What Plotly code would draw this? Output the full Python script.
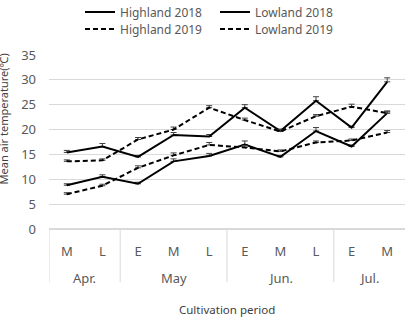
import plotly.graph_objects as go

months = ["Apr.", "May", "Jun.", "Jul."]
month_counts = [2, 3, 3, 2]
periods = ["M", "L", "E", "M", "L", "E", "M", "L", "E", "M"]

highland_2018 = [15.4, 16.6, 14.5, 18.9, 18.6, 24.4, 19.7, 25.8, 20.4, 29.6]
lowland_2018 = [8.8, 10.5, 9.1, 13.6, 14.7, 17.0, 14.5, 19.7, 16.6, 23.3]
highland_2019 = [13.6, 13.8, 18.0, 20.0, 24.4, 21.9, 19.6, 22.7, 24.6, 23.3]
lowland_2019 = [7.0, 8.7, 12.3, 14.8, 16.9, 16.4, 15.6, 17.4, 17.8, 19.4]

err_h18 = [0.4, 0.6, 0.3, 0.5, 0.4, 0.6, 0.4, 0.8, 0.3, 0.8]
err_l18 = [0.3, 0.4, 0.3, 0.5, 0.5, 0.7, 0.3, 0.7, 0.3, 0.4]
err_h19 = [0.3, 0.3, 0.4, 0.5, 0.4, 0.4, 0.4, 0.3, 0.5, 0.4]
err_l19 = [0.3, 0.3, 0.4, 0.5, 0.5, 0.4, 0.3, 0.3, 0.3, 0.4]

# unique category keys (zero-width spaces) so repeated period letters keep their order
x = [p + "\u200b" * i for i, p in enumerate(periods)]
grey = "#595959"
font = "Noto Sans"

fig = go.Figure()

def add(name, y, err, dash, legend):
    fig.add_trace(go.Scatter(
        x=x, y=y, name=name, mode="lines", legend=legend,
        line=dict(color="black", width=2, dash=dash),
        error_y=dict(type="data", array=err, arrayminus=[0] * len(err), symmetric=False,
                     color="#404040", thickness=1, width=3),
    ))

add("Highland 2018", highland_2018, err_h18, "solid", "legend")
add("Lowland 2018", lowland_2018, err_l18, "solid", "legend")
add("Highland 2019", highland_2019, err_h19, "5px,3px", "legend2")
add("Lowland 2019", lowland_2019, err_l19, "5px,3px", "legend2")

legend_common = dict(orientation="h", xref="container", yref="container", xanchor="left", yanchor="middle",
                     font=dict(family=font, size=12, color=grey), bgcolor="rgba(0,0,0,0)",
                     itemwidth=30, tracegroupgap=0, entrywidth=90, entrywidthmode="pixels")

fig.update_layout(
    width=407, height=320,
    margin=dict(l=49, r=2, t=43, b=91),
    paper_bgcolor="white", plot_bgcolor="white",
    font=dict(family=font, size=12, color=grey),
    showlegend=True,
    legend=dict(x=80 / 407, y=1 - 12 / 320, **legend_common),
    legend2=dict(x=80 / 407, y=1 - 29 / 320, **legend_common),
    xaxis=dict(
        type="category", categoryorder="array", categoryarray=x,
        range=[-0.5, len(x) - 0.5],
        showgrid=False, zeroline=False, showline=False, ticks="",
        ticklabelstandoff=13,
        tickfont=dict(family=font, size=13, color=grey),
    ),
    yaxis=dict(
        range=[0, 35], dtick=5, showgrid=True, gridcolor="#d9d9d9", gridwidth=1,
        zeroline=True, zerolinecolor="#d9d9d9", showline=False, ticks="",
        ticklabelstandoff=12,
        tickfont=dict(family=font, size=13, color=grey),
    ),
)

# month group labels and dividers
div_bottom = -0.306
start = 0
for m, n in zip(months, month_counts):
    fig.add_shape(type="line", xref="x", yref="paper", x0=start - 0.5, x1=start - 0.5,
                  y0=0, y1=div_bottom, line=dict(color="#d9d9d9", width=1))
    fig.add_annotation(text=m, xref="x", yref="paper", x=start + (n - 1) / 2, y=-0.28,
                       showarrow=False, yanchor="middle",
                       font=dict(family=font, size=13, color=grey))
    start += n

fig.add_annotation(text="Cultivation period", xref="paper", yref="paper", x=0.5, y=-0.46,
                   showarrow=False, yanchor="middle", xanchor="center",
                   font=dict(family=font, size=11.5, color="#404040"))

fig.add_annotation(
    text="Mean air temperature(℃)", xref="paper", yref="paper", x=-0.129, y=0.63,
    textangle=-90, showarrow=False, xanchor="center", yanchor="middle",
    font=dict(family=font, size=11, color="#404040"),
)

fig.write_html("out.html")
